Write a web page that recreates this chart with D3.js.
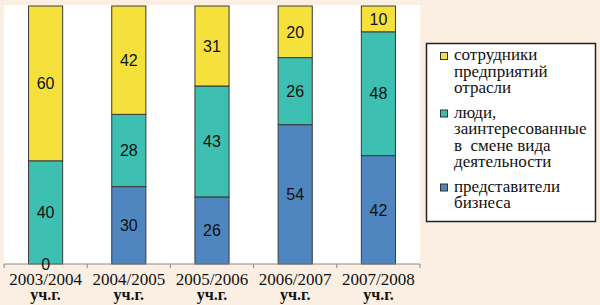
<!DOCTYPE html>
<html>
<head>
<meta charset="utf-8">
<script src="https://cdn.jsdelivr.net/npm/d3@7/dist/d3.min.js"></script>
</head>
<body style="margin:0; background:#fbefe3">
<svg id="chart" width="600" height="305" style="display:block"></svg>
<script>
// Data
const years = ['2003/2004', '2004/2005', '2005/2006', '2006/2007', '2007/2008'];
const yearSuffix = 'уч.г.';
const business = [0, 30, 26, 54, 42];       // представители бизнеса
const changers = [40, 28, 43, 26, 48];      // люди, заинтересованные в смене вида деятельности
const staff = [60, 42, 31, 20, 10];         // сотрудники предприятий отрасли

const seriesKeys = ['business', 'changers', 'staff'];
const seriesColors = { business: '#4f86bf', changers: '#3dbfb1', staff: '#f6e13c' };
const legendItems = [
  { key: 'staff', lines: ['сотрудники', 'предприятий', 'отрасли'] },
  { key: 'changers', lines: ['люди,', 'заинтересованные', 'в  смене вида', 'деятельности'] },
  { key: 'business', lines: ['представители', 'бизнеса'] }
];

const rows = years.map((y, i) => ({
  year: y, business: business[i], changers: changers[i], staff: staff[i]
}));

const svg = d3.select('#chart');
const plot = { left: 4, right: 420, top: 6, bottom: 264 };

// White plot area
svg.append('rect')
  .attr('x', plot.left).attr('y', 5)
  .attr('width', plot.right - plot.left).attr('height', plot.bottom - 5)
  .attr('fill', '#ffffff');

const x = d3.scaleBand().domain(years).range([plot.left, plot.right]).paddingInner(0.59).paddingOuter(0.295);
const y = d3.scaleLinear().domain([0, 100]).range([plot.bottom, plot.top]);

const stacked = d3.stack().keys(seriesKeys)(rows);

const layer = svg.append('g').selectAll('g')
  .data(stacked).enter().append('g')
  .attr('fill', d => seriesColors[d.key]);

layer.selectAll('rect')
  .data(d => d).enter().append('rect')
  .attr('x', d => x(d.data.year))
  .attr('y', d => y(d[1]))
  .attr('width', x.bandwidth())
  .attr('height', d => y(d[0]) - y(d[1]))
  .attr('stroke', '#3a3a3a')
  .attr('stroke-width', 1);

// X axis: line with ticks at band boundaries
const axisG = svg.append('g');
axisG.append('line')
  .attr('x1', plot.left).attr('x2', plot.right)
  .attr('y1', plot.bottom).attr('y2', plot.bottom)
  .attr('stroke', '#8a8a8a').attr('stroke-width', 1);
const step = (plot.right - plot.left) / years.length;
axisG.selectAll('line.tick')
  .data(d3.range(years.length + 1)).enter().append('line')
  .attr('class', 'tick')
  .attr('x1', i => plot.left + i * step).attr('x2', i => plot.left + i * step)
  .attr('y1', plot.bottom).attr('y2', plot.bottom + 4)
  .attr('stroke', '#8a8a8a').attr('stroke-width', 1);

// Value labels (drawn after axis so the zero label sits on top)
svg.append('g').selectAll('g')
  .data(stacked).enter().append('g')
  .selectAll('text')
  .data(d => d.map(v => ({ key: d.key, v }))).enter().append('text')
  .attr('style', 'font-family: "Liberation Sans"; font-size: 16px')
  .attr('x', d => x(d.v.data.year) + x.bandwidth() / 2)
  .attr('y', d => (y(d.v[0]) + y(d.v[1])) / 2)
  .attr('dy', '0.36em')
  .attr('text-anchor', 'middle')
  .attr('fill', '#111')
  .text(d => d.v.data[d.key]);

// Category labels, two lines each
axisG.selectAll('text.year')
  .data(years).enter().append('text')
  .attr('class', 'year')
  .attr('style', 'font-family: "Liberation Serif"; font-size: 17px')
  .attr('x', d => x(d) + x.bandwidth() / 2)
  .attr('y', 285)
  .attr('text-anchor', 'middle')
  .attr('fill', '#111')
  .text(d => d);
axisG.selectAll('text.suffix')
  .data(years).enter().append('text')
  .attr('class', 'suffix')
  .attr('style', 'font-family: "Liberation Serif"; font-size: 16px; font-weight: bold')
  .attr('x', d => x(d) + x.bandwidth() / 2)
  .attr('y', 300)
  .attr('text-anchor', 'middle')
  .attr('fill', '#111')
  .text(yearSuffix);

// Legend
const legend = svg.append('g');
legend.append('rect')
  .attr('x', 426.5).attr('y', 43.5).attr('width', 169).attr('height', 178)
  .attr('fill', '#ffffff').attr('stroke', '#222').attr('stroke-width', 1.5);

const lineH = 16.5;
let ly = 60;
legendItems.forEach(item => {
  legend.append('rect')
    .attr('x', 440.5).attr('y', ly - 7.5).attr('width', 7).attr('height', 7)
    .attr('fill', seriesColors[item.key]).attr('stroke', '#333').attr('stroke-width', 1);
  item.lines.forEach((t, j) => {
    legend.append('text')
      .attr('style', 'font-family: "Liberation Serif"; font-size: 17px; white-space: pre')
      .attr('x', 454).attr('y', ly + j * lineH)
      .attr('fill', '#111')
      .text(t);
  });
  ly += item.lines.length * lineH + 8;
});
</script>
</body>
</html>
